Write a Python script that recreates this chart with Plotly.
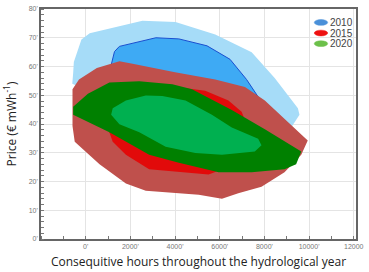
import plotly.graph_objects as go

# 2010 envelope (outer) and core (inner)
x2010_outer = [-560, -530, -190, 180, 2540, 4020, 5800, 7430, 8460, 9500, 9570, 9200, 8500, 6000, 3000, 0, -600]
y2010_outer = [57.7, 61.6, 69.4, 71.6, 75.9, 75.5, 71.1, 65.0, 56.0, 45.5, 43.2, 38.8, 38.0, 45.0, 52.0, 52.0, 54.0]
x2010_inner = [1140, 1290, 1510, 3140, 4170, 5430, 6460, 7200, 7800, 7400, 5000, 3000, 1100]
y2010_inner = [60.5, 65.2, 67.0, 70.0, 69.6, 67.2, 62.5, 55.5, 48.5, 45.0, 52.0, 56.0, 58.0]

# 2015 envelope (outer) and core (inner)
x2015_outer = [-590, -300, 500, 1510, 2100, 4000, 5800, 7130, 8020, 9940, 9650, 8900, 7870, 6830, 6100, 5060, 2690, 1800, 620, -490, -590, -590]
y2015_outer = [52.1, 55.5, 59.5, 61.8, 61.0, 58.0, 55.5, 52.9, 48.2, 34.3, 29.3, 23.2, 18.2, 15.9, 14.0, 15.4, 16.8, 19.3, 26.0, 33.8, 39.3, 48.2]
x2015_inner = [1060, 1210, 1800, 2840, 5500, 5950, 7000, 7200, 6980, 6390, 5350, 4000, 2000]
y2015_inner = [37.1, 33.8, 29.3, 24.3, 22.4, 23.7, 30.0, 40.0, 44.3, 48.2, 51.6, 53.0, 50.0]

# 2020 envelope (outer) and core (inner)
x2020_outer = [-560, 100, 1060, 2400, 3880, 4760, 6540, 8020, 9650, 9420, 8900, 7430, 5950, 4170, 2840, 1060, -560]
y2020_outer = [46.0, 50.5, 54.4, 54.9, 53.8, 52.1, 44.9, 38.2, 30.4, 26.0, 24.3, 23.2, 23.2, 26.5, 29.3, 37.1, 43.2]
x2020_inner = [1140, 1210, 1800, 2690, 3430, 4470, 5650, 6540, 7720, 7870, 7570, 6100, 4910, 3580, 2400, 1510]
y2020_inner = [43.2, 45.5, 48.2, 49.9, 49.7, 48.2, 43.2, 38.8, 34.9, 32.6, 30.4, 29.3, 29.9, 32.1, 37.1, 39.9]

legend_labels = ["2010", "2015", "2020"]
legend_colors = ["#4a90d9", "#ee1111", "#6cc04a"]

x_tickvals = [0, 2000, 4000, 6000, 8000, 10000, 12000]
x_ticktext = ["0'", "2000'", "4000'", "6000'", "8000'", "10000'", "12000"]
y_tickvals = [0, 10, 20, 30, 40, 50, 60, 70, 80]
y_ticktext = ["0'", "10'", "20'", "30'", "40'", "50'", "60'", "70'", "80'"]

fig = go.Figure()

def poly(x, y, fill, line_color=None, width=0):
    fig.add_trace(go.Scatter(
        x=x + [x[0]], y=y + [y[0]], mode="lines", fill="toself", fillcolor=fill,
        line=dict(color=line_color or fill, width=width), hoverinfo="skip", showlegend=False))

poly(x2010_outer, y2010_outer, "#a6dcf8")
poly(x2010_inner, y2010_inner, "#3eaaf4", "#1a4fd0", 1)
poly(x2015_outer, y2015_outer, "#bf504c")
poly(x2015_inner, y2015_inner, "#e20a0a")
poly(x2020_outer, y2020_outer, "#008000")
poly(x2020_inner, y2020_inner, "#00b050")

def px(xp):
    return (xp - 41) / (358 - 41)

def py(yp):
    return 1 - (yp - 5) / (244 - 5)

# Legend (ellipse markers + labels) in paper coordinates
for i, (lab, col) in enumerate(zip(legend_labels, legend_colors)):
    yc = 19 + i * 11  # pixel row
    fig.add_shape(type="circle", xref="paper", yref="paper",
                  x0=px(316), x1=px(329.5), y0=py(yc + 3), y1=py(yc - 3),
                  fillcolor=col, line=dict(color=col, width=0.5))
    fig.add_annotation(text=lab, xref="paper", yref="paper", x=px(330), y=py(yc),
                       xanchor="left", yanchor="middle", showarrow=False,
                       font=dict(size=10, color="#444", family="Liberation Sans"))

fig.update_layout(
    width=369, height=272,
    margin=dict(l=41, r=11, t=5, b=28),
    paper_bgcolor="white", plot_bgcolor="white",
    showlegend=False,
    xaxis=dict(range=[-2000, 12100], tickvals=x_tickvals, ticktext=x_ticktext,
               showgrid=True, gridcolor="#e4e4e4", gridwidth=1,
               showline=True, linecolor="#666", linewidth=1.5, mirror=True,
               ticks="", zeroline=False,
               minor=dict(dtick=1000, ticks="inside", ticklen=3, tickcolor="#777", showgrid=False),
               tickfont=dict(size=7, color="#777", family="Liberation Sans"),
               title=dict(text="Consequitive hours throughout the hydrological year",
                          font=dict(size=12, color="#222", family="Open Sans"), standoff=8)),
    yaxis=dict(range=[0, 80], tickvals=y_tickvals, ticktext=y_ticktext,
               showgrid=True, gridcolor="#e4e4e4", gridwidth=1,
               showline=True, linecolor="#666", linewidth=1.5, mirror=True,
               ticks="", zeroline=False,
               minor=dict(dtick=2, ticks="inside", ticklen=3, tickcolor="#777", showgrid=False),
               tickfont=dict(size=7, color="#777", family="Liberation Sans"),
               title=dict(text="Price (€ mWh<sup>-1</sup>)",
                          font=dict(size=12, color="#222", family="Open Sans"), standoff=10)),
)

fig.write_html("out.html")
